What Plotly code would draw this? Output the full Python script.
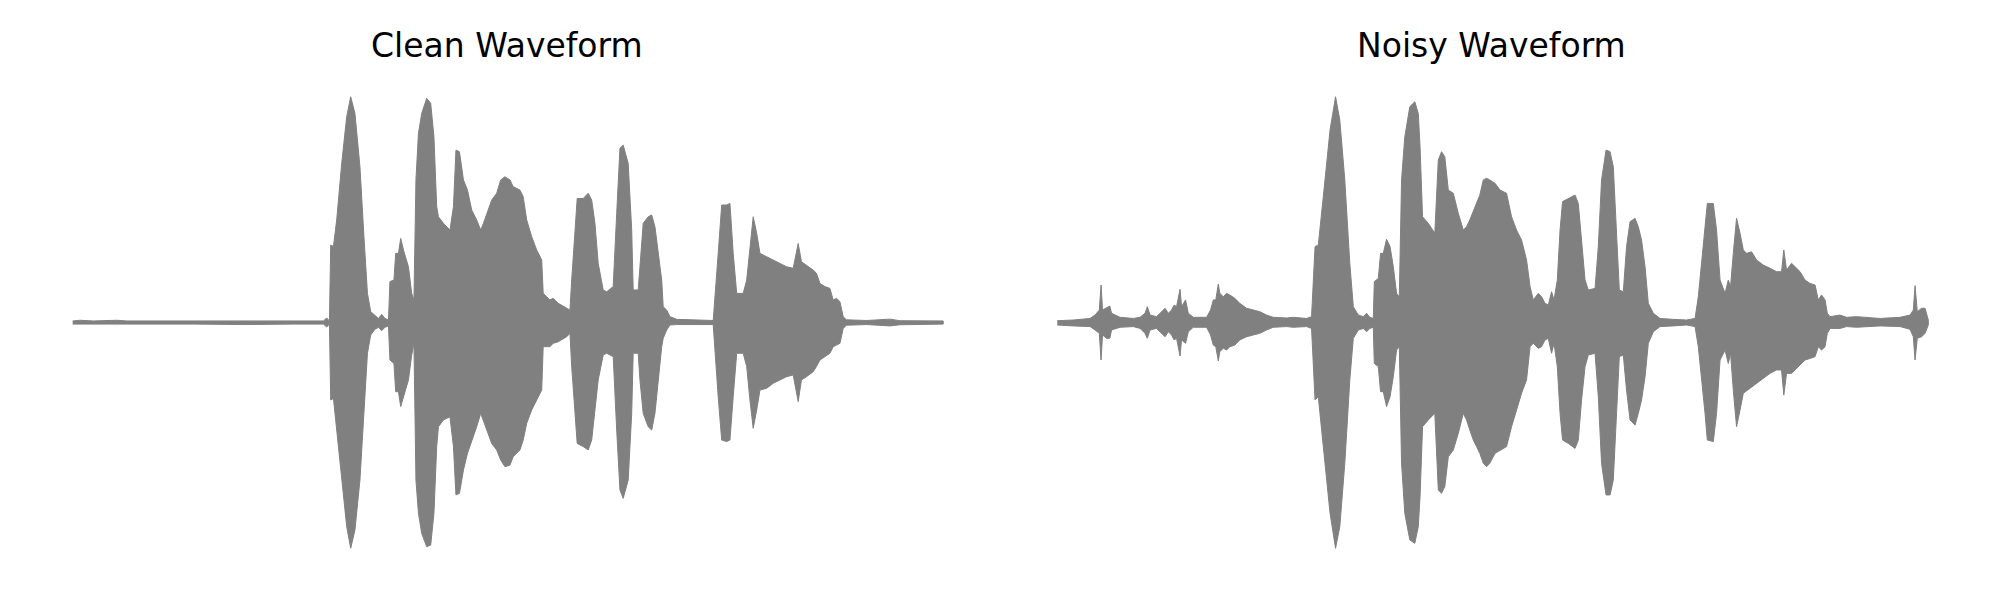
import plotly.graph_objects as go

# ---------------- data (time in s, normalized amplitude envelope) ----------------
clean_t = [0.000, 0.029, 0.083, 0.176, 0.216, 0.483, 0.683, 0.883, 1.003, 1.016,
           1.027, 1.032, 1.043, 1.056, 1.076, 1.096, 1.112, 1.129, 1.149, 1.165,
           1.179, 1.192, 1.209, 1.223, 1.236, 1.249, 1.263, 1.269, 1.285, 1.292,
           1.303, 1.312, 1.325, 1.343, 1.356, 1.365, 1.373, 1.383, 1.396, 1.416,
           1.432, 1.445, 1.456, 1.463, 1.483, 1.509, 1.523, 1.533, 1.547, 1.563,
           1.579, 1.596, 1.616, 1.632, 1.643, 1.659, 1.676, 1.696, 1.712, 1.729,
           1.749,
           1.762, 1.789, 1.802, 1.816, 1.836, 1.856, 1.876, 1.882, 1.909, 1.922,
           1.942, 1.976, 1.989, 1.996, 2.009, 2.018, 2.042, 2.062, 2.076, 2.089,
           2.102, 2.122, 2.136, 2.162, 2.176, 2.189, 2.202, 2.222, 2.236, 2.242,
           2.262, 2.269, 2.282, 2.302, 2.316, 2.329, 2.342, 2.356, 2.362, 2.376,
           2.389, 2.416, 2.562, 2.569, 2.582, 2.596, 2.616, 2.629, 2.642, 2.656,
           2.682, 2.696, 2.709, 2.722, 2.736, 2.749, 2.776, 2.802, 2.829, 2.855,
           2.882, 2.902, 2.915, 2.935, 2.962, 2.975, 2.989, 3.009, 3.029, 3.042,
           3.055, 3.069, 3.082, 3.095, 3.175, 3.269, 3.309, 3.482]
clean_upper = [0.007, 0.010, 0.007, 0.010, 0.007, 0.007, 0.009, 0.007, 0.007, 0.020,
               0.007, 0.343, 0.336, 0.454, 0.704, 0.911, 0.999, 0.925, 0.690, 0.380,
               0.129, 0.048, 0.029, 0.018, 0.036, 0.018, 0.011, 0.181, 0.188, 0.306,
               0.306, 0.372, 0.313, 0.247, 0.129, 0.100, 0.631, 0.837, 0.925, 0.992,
               0.970, 0.822, 0.513, 0.468, 0.439, 0.409, 0.513, 0.763, 0.756, 0.631,
               0.587, 0.498, 0.454, 0.409, 0.439, 0.490, 0.542, 0.572, 0.631, 0.645,
               0.631,
               0.601, 0.586, 0.557, 0.454, 0.380, 0.321, 0.277, 0.129, 0.100, 0.107,
               0.085, 0.063, 0.055, 0.188, 0.409, 0.549, 0.549, 0.572, 0.542, 0.439,
               0.262, 0.144, 0.136, 0.159, 0.483, 0.771, 0.785, 0.704, 0.409, 0.144,
               0.144, 0.247, 0.439, 0.468, 0.476, 0.424, 0.306, 0.188, 0.070, 0.055,
               0.026, 0.014, 0.009, 0.129, 0.306, 0.520, 0.520, 0.527, 0.306, 0.129,
               0.129, 0.188, 0.336, 0.468, 0.395, 0.306, 0.291, 0.277, 0.262, 0.247,
               0.240, 0.350, 0.269, 0.254, 0.232, 0.218, 0.173, 0.159, 0.151, 0.100,
               0.107, 0.092, 0.026, 0.012, 0.009, 0.015, 0.008, 0.007]
clean_lower = [-0.007, -0.010, -0.007, -0.010, -0.007, -0.007, -0.009, -0.007, -0.007, -0.020,
               -0.007, -0.343, -0.336, -0.461, -0.697, -0.903, -0.999, -0.918, -0.697, -0.387,
               -0.136, -0.055, -0.030, -0.021, -0.036, -0.021, -0.015, -0.166, -0.181, -0.306,
               -0.306, -0.372, -0.321, -0.254, -0.144, -0.092, -0.697, -0.844, -0.933, -0.992,
               -0.985, -0.844, -0.549, -0.461, -0.431, -0.417, -0.549, -0.763, -0.756, -0.653,
               -0.579, -0.520, -0.461, -0.402, -0.439, -0.483, -0.535, -0.564, -0.608, -0.638,
               -0.631,
               -0.594, -0.564, -0.520, -0.446, -0.387, -0.343, -0.299, -0.107, -0.107, -0.092,
               -0.085, -0.063, -0.048, -0.195, -0.402, -0.535, -0.549, -0.564, -0.520, -0.402,
               -0.254, -0.144, -0.136, -0.151, -0.476, -0.741, -0.778, -0.697, -0.402, -0.136,
               -0.136, -0.254, -0.402, -0.461, -0.476, -0.402, -0.254, -0.107, -0.070, -0.033,
               -0.011, -0.009, -0.009, -0.122, -0.328, -0.520, -0.527, -0.520, -0.328, -0.136,
               -0.136, -0.195, -0.343, -0.468, -0.387, -0.299, -0.291, -0.269, -0.254, -0.240,
               -0.232, -0.350, -0.254, -0.240, -0.218, -0.195, -0.166, -0.151, -0.136, -0.107,
               -0.100, -0.092, -0.026, -0.012, -0.009, -0.015, -0.010, -0.007]

noisy_t = [0.000, 0.064, 0.131, 0.151, 0.168, 0.175, 0.181, 0.197, 0.210, 0.217,
           0.251, 0.304, 0.331, 0.351, 0.360, 0.371, 0.397, 0.411, 0.431, 0.444,
           0.457, 0.467, 0.477, 0.491, 0.497, 0.513, 0.524, 0.544, 0.597, 0.613,
           0.624, 0.634, 0.644, 0.650, 0.664, 0.677, 0.690, 0.710, 0.730, 0.757,
           0.784, 0.810, 0.837, 0.864, 0.917, 0.944, 0.997, 1.017, 1.031, 1.044,
           1.064, 1.091, 1.113, 1.130, 1.150, 1.170, 1.184, 1.204, 1.224, 1.237,
           1.250, 1.264, 1.268, 1.284, 1.293, 1.304, 1.317, 1.331, 1.344, 1.357,
           1.368, 1.377, 1.390, 1.410, 1.430, 1.444, 1.451, 1.461, 1.484, 1.510,
           1.524, 1.537, 1.550, 1.564, 1.584, 1.604, 1.624, 1.637, 1.650, 1.664,
           1.677, 1.690, 1.704, 1.717, 1.730,
           1.751, 1.771, 1.797, 1.817, 1.837, 1.857, 1.877, 1.891, 1.904, 1.924,
           1.937, 1.951, 1.964, 1.977, 1.987, 2.000, 2.011, 2.021, 2.044, 2.071,
           2.084, 2.097, 2.111, 2.124, 2.151, 2.164, 2.177, 2.195, 2.211, 2.224,
           2.237, 2.248, 2.264, 2.277, 2.291, 2.311, 2.324, 2.337, 2.351, 2.364,
           2.384, 2.411, 2.464, 2.517, 2.551, 2.564, 2.577, 2.591, 2.600, 2.624,
           2.637, 2.651, 2.671, 2.684, 2.693, 2.704, 2.717, 2.731, 2.744, 2.757,
           2.777, 2.797, 2.824, 2.851, 2.877, 2.897, 2.906, 2.917, 2.937, 2.951,
           2.971, 2.991, 3.011, 3.031, 3.044, 3.057, 3.071, 3.080, 3.091, 3.131,
           3.157, 3.197, 3.237, 3.291, 3.371, 3.411, 3.424, 3.431, 3.440, 3.457,
           3.471, 3.484]
noisy_upper = [0.008, 0.011, 0.018, 0.033, 0.055, 0.166, 0.055, 0.063, 0.073, 0.041,
               0.023, 0.018, 0.023, 0.041, 0.070, 0.033, 0.026, 0.041, 0.063, 0.041,
               0.055, 0.077, 0.070, 0.147, 0.070, 0.100, 0.041, 0.023, 0.023, 0.055,
               0.100, 0.100, 0.170, 0.129, 0.114, 0.129, 0.122, 0.107, 0.085, 0.063,
               0.055, 0.048, 0.033, 0.023, 0.020, 0.023, 0.018, 0.026, 0.336, 0.343,
               0.557, 0.852, 0.999, 0.896, 0.631, 0.262, 0.070, 0.033, 0.026, 0.041,
               0.023, 0.018, 0.181, 0.195, 0.306, 0.306, 0.368, 0.336, 0.247, 0.129,
               0.114, 0.631, 0.822, 0.955, 0.977, 0.925, 0.778, 0.468, 0.439, 0.395,
               0.719, 0.756, 0.734, 0.586, 0.572, 0.483, 0.409, 0.424, 0.454, 0.490,
               0.527, 0.564, 0.631, 0.638, 0.631,
               0.616, 0.586, 0.572, 0.468, 0.409, 0.365, 0.277, 0.159, 0.100, 0.129,
               0.114, 0.085, 0.077, 0.136, 0.100, 0.188, 0.409, 0.535, 0.549, 0.564,
               0.527, 0.365, 0.188, 0.144, 0.151, 0.336, 0.631, 0.763, 0.756, 0.690,
               0.409, 0.144, 0.136, 0.336, 0.446, 0.461, 0.424, 0.365, 0.247, 0.085,
               0.041, 0.018, 0.014, 0.011, 0.018, 0.114, 0.262, 0.409, 0.527, 0.527,
               0.409, 0.188, 0.129, 0.188, 0.159, 0.306, 0.461, 0.395, 0.321, 0.306,
               0.313, 0.277, 0.254, 0.240, 0.225, 0.225, 0.321, 0.232, 0.262, 0.247,
               0.225, 0.188, 0.173, 0.166, 0.100, 0.122, 0.100, 0.041, 0.026, 0.033,
               0.023, 0.026, 0.023, 0.018, 0.023, 0.033, 0.055, 0.163, 0.048, 0.063,
               0.063, 0.011]
noisy_lower = [-0.011, -0.015, -0.018, -0.033, -0.048, -0.166, -0.055, -0.070, -0.070, -0.033,
               -0.021, -0.018, -0.026, -0.048, -0.070, -0.033, -0.026, -0.041, -0.063, -0.041,
               -0.055, -0.077, -0.070, -0.148, -0.077, -0.092, -0.041, -0.021, -0.021, -0.055,
               -0.100, -0.107, -0.170, -0.129, -0.114, -0.122, -0.107, -0.100, -0.077, -0.063,
               -0.055, -0.048, -0.033, -0.021, -0.018, -0.021, -0.018, -0.026, -0.343, -0.328,
               -0.549, -0.844, -0.999, -0.903, -0.623, -0.254, -0.070, -0.033, -0.026, -0.041,
               -0.026, -0.021, -0.181, -0.195, -0.306, -0.306, -0.372, -0.328, -0.240, -0.122,
               -0.107, -0.623, -0.844, -0.962, -0.977, -0.903, -0.771, -0.461, -0.431, -0.402,
               -0.741, -0.756, -0.726, -0.594, -0.564, -0.490, -0.402, -0.431, -0.476, -0.520,
               -0.549, -0.579, -0.623, -0.638, -0.623,
               -0.579, -0.564, -0.549, -0.461, -0.387, -0.313, -0.254, -0.107, -0.092, -0.114,
               -0.107, -0.077, -0.070, -0.136, -0.092, -0.195, -0.402, -0.520, -0.535, -0.557,
               -0.520, -0.343, -0.195, -0.144, -0.136, -0.328, -0.623, -0.763, -0.763, -0.697,
               -0.402, -0.151, -0.144, -0.299, -0.431, -0.454, -0.402, -0.343, -0.240, -0.092,
               -0.041, -0.018, -0.015, -0.011, -0.018, -0.107, -0.254, -0.402, -0.520, -0.527,
               -0.402, -0.166, -0.122, -0.181, -0.136, -0.299, -0.461, -0.387, -0.313, -0.299,
               -0.284, -0.269, -0.247, -0.225, -0.210, -0.210, -0.321, -0.225, -0.225, -0.210,
               -0.188, -0.166, -0.159, -0.151, -0.107, -0.122, -0.107, -0.048, -0.026, -0.026,
               -0.018, -0.021, -0.018, -0.015, -0.018, -0.030, -0.063, -0.166, -0.070, -0.063,
               -0.048, -0.011]

titles = ["Clean Waveform", "Noisy Waveform"]

assert len(clean_t) == len(clean_upper) == len(clean_lower)
assert len(noisy_t) == len(noisy_upper) == len(noisy_lower)

# ---------------- figure ----------------
GRAY = "#808080"
fig = go.Figure()


def add_wave(t, up, lo, xa, ya):
    fig.add_trace(go.Scatter(
        x=list(t) + list(t[::-1]),
        y=list(up) + list(lo[::-1]),
        mode="lines", fill="toself", fillcolor=GRAY,
        line=dict(color=GRAY, width=1),
        hoverinfo="skip", showlegend=False,
        xaxis=xa, yaxis=ya,
    ))


add_wave(clean_t, clean_upper, clean_lower, "x", "y")
add_wave(noisy_t, noisy_upper, noisy_lower, "x2", "y2")

W, H = 2000, 600
xr = [-0.174, 3.658]
ydom = [0.0615, 0.8901]
axis_off = dict(visible=False, showgrid=False, zeroline=False)

fig.update_layout(
    width=W, height=H,
    margin=dict(l=0, r=0, t=0, b=0),
    paper_bgcolor="white", plot_bgcolor="white",
    xaxis=dict(domain=[0.0106, 0.4896], range=xr, **axis_off),
    yaxis=dict(domain=ydom, range=[-1.1, 1.1], **axis_off),
    xaxis2=dict(domain=[0.5029, 0.9819], range=xr, anchor="y2", **axis_off),
    yaxis2=dict(domain=ydom, range=[-1.1, 1.1], anchor="x2", **axis_off),
    font=dict(family="DejaVu Sans", color="black"),
    annotations=[
        dict(text=titles[0], x=0.2495, y=0.938, xref="paper", yref="paper",
             xanchor="center", yanchor="middle", showarrow=False,
             font=dict(size=33, family="DejaVu Sans", color="black")),
        dict(text=titles[1], x=0.7418, y=0.938, xref="paper", yref="paper",
             xanchor="center", yanchor="middle", showarrow=False,
             font=dict(size=33, family="DejaVu Sans", color="black")),
    ],
)

fig.write_html("out.html")
